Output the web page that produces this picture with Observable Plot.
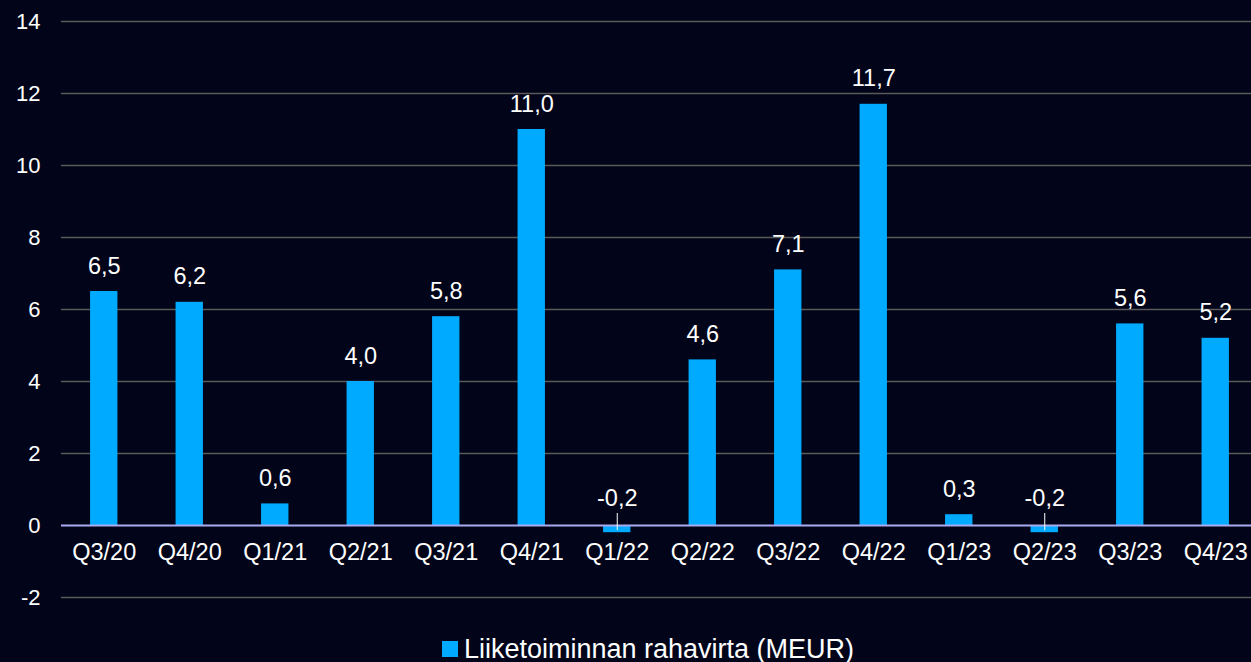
<!DOCTYPE html>
<html>
<head>
<meta charset="utf-8">
<script src="https://cdn.jsdelivr.net/npm/d3@7"></script>
<script src="https://cdn.jsdelivr.net/npm/@observablehq/plot@0.6"></script>
<style>
  html, body { margin: 0; padding: 0; background: #02051a; width: 1251px; height: 662px; overflow: hidden; }
  #chart svg { display: block; overflow: visible; }
  #legend { height: 32px; display: flex; align-items: center; justify-content: center; font-family: "Liberation Sans", Arial, sans-serif; font-size: 27px; color: #ffffff; margin-left: 45px; padding-top: 3px; }
  #legend .sw { width: 16px; height: 16px; background: #00aaff; margin-right: 6px; display: inline-block; }
</style>
</head>
<body>
<div id="chart"></div>
<div id="legend"><span class="sw"></span><span>Liiketoiminnan rahavirta (MEUR)</span></div>
<script>
const quarters = ["Q3/20","Q4/20","Q1/21","Q2/21","Q3/21","Q4/21","Q1/22","Q2/22","Q3/22","Q4/22","Q1/23","Q2/23","Q3/23","Q4/23"];
const cashflow = [6.5, 6.2, 0.6, 4.0, 5.8, 11.0, -0.2, 4.6, 7.1, 11.7, 0.3, -0.2, 5.6, 5.2];
const yTicks = [-2, 0, 2, 4, 6, 8, 10, 12, 14];
const seriesName = "Liiketoiminnan rahavirta (MEUR)";

const data = quarters.map((q, i) => ({q, v: cashflow[i]}));
const fmt = v => v.toFixed(1).replace(".", ",");
const pos = data.filter(d => d.v >= 0);
const neg = data.filter(d => d.v < 0);

const chart = Plot.plot({
  width: 1251,
  height: 630,
  marginTop: 21,
  marginBottom: 33,
  marginLeft: 61,
  marginRight: 0,
  style: { background: "#02051a", color: "#ffffff", fontFamily: "'Liberation Sans', Arial, sans-serif" },
  x: { domain: quarters, range: [61, 1258], round: false, paddingInner: 0.68, paddingOuter: 0.34, axis: null },
  y: { domain: [-2, 14], ticks: yTicks, label: null },
  marks: [
    Plot.ruleY(yTicks.filter(t => t !== 0), { stroke: "#5a5a5a", strokeWidth: 1.5 }),
    Plot.axisY({ ticks: yTicks, tickSize: 0, tickPadding: 21, fontSize: 22, fill: "#ffffff", label: null, tickFormat: d => String(d) }),
    Plot.barY(data, { x: "q", y: "v", fill: "#00aaff" }),
    Plot.ruleY([0], { stroke: "#a9abf0", strokeWidth: 2 }),
    Plot.ruleX(neg, { x: "q", y1: 0, y2: "v", stroke: "#ffffff", strokeWidth: 1, insetTop: -12, insetBottom: 2 }),
    Plot.text(pos, { x: "q", y: "v", text: d => fmt(d.v), dy: -18, lineAnchor: "bottom", fontSize: 23.5, fill: "#ffffff" }),
    Plot.text(neg, { x: "q", y: 0, text: d => fmt(d.v), dy: -20, lineAnchor: "bottom", fontSize: 23.5, fill: "#ffffff" }),
    Plot.text(data, { x: "q", y: 0, text: "q", dy: 27, lineAnchor: "middle", fontSize: 23.5, fill: "#ffffff" })
  ]
});
document.getElementById("chart").appendChild(chart);
</script>
</body>
</html>
